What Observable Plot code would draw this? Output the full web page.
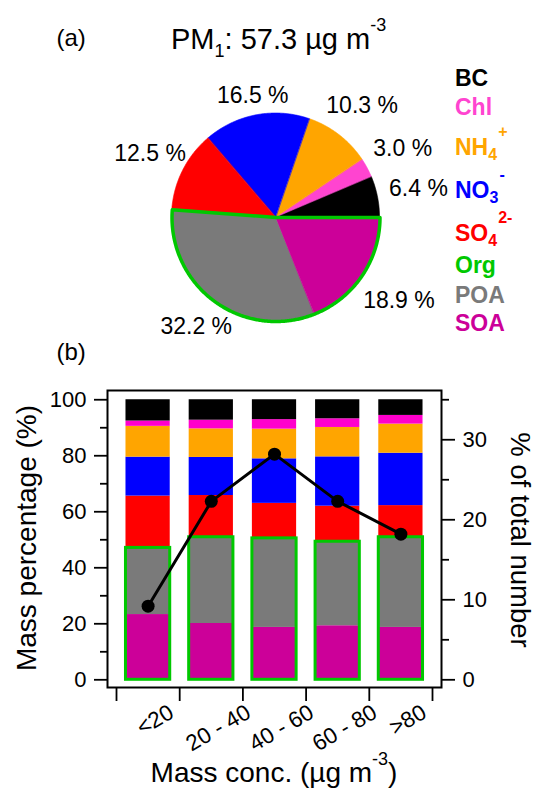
<!DOCTYPE html>
<html><head><meta charset="utf-8">
<script src="https://cdn.jsdelivr.net/npm/d3@7"></script>
<script src="https://cdn.jsdelivr.net/npm/@observablehq/plot@0.6"></script>
<style>
html,body{margin:0;padding:0;background:#fff;}
#root{position:relative;width:536px;height:788px;overflow:hidden;font-family:"Liberation Sans",Arial,sans-serif;color:#000;}
.t{position:absolute;white-space:nowrap;line-height:1;}
.t span{position:relative;}
</style></head><body><div id="root"></div>
<script>
// ---------- data ----------
const pieComponents = ["BC","Chl","NH4","NO3","SO4","POA","SOA"];
const piePercent   = [6.4, 3.0, 10.3, 16.5, 12.5, 32.2, 18.9];
const pieLabels    = ["6.4 %","3.0 %","10.3 %","16.5 %","12.5 %","32.2 %","18.9 %"];
const pieColors    = ["#000000","#ff44d0","#ffa500","#0000ff","#ff0000","#7a7a7a","#cc0099"];
const orgParts     = ["POA","SOA"];
const pm1Value     = "57.3";

const binLabels  = ["<20","20 - 40","40 - 60","60 - 80",">80"];
const stackOrder = ["SOA","POA","SO4","NO3","NH4","Chl","BC"];
const barColors  = ["#cc0099","#7a7a7a","#ff0000","#0000ff","#ffa500","#ff00cc","#000000"];
const soa = [23.3, 20.1, 18.7, 19.3, 18.7];
const poa = [23.8, 30.8, 31.8, 30.0, 32.2];
const so4 = [18.5, 14.9, 12.5, 12.7, 11.3];
const no3 = [13.9, 13.6, 15.9, 17.6, 18.7];
const nh4 = [11.0, 10.2, 10.6, 10.5, 10.4];
const chl = [1.9, 3.1, 3.4, 3.1, 3.1];
const bc  = [7.6, 7.3, 7.1, 6.8, 5.6];
const numberPercent = [9.2, 22.3, 28.2, 22.3, 18.2];

const leftTicks  = [0,20,40,60,80,100];
const leftMinor  = [10,30,50,70,90];
const rightTicks = [0,10,20,30];
const rightMinor = [5,15,25,35];
const leftMax = 100, rightMax = 35;

const legendItems = [["BC","",""],["Chl","",""],["NH","4","+"],["NO","3","-"],["SO","4","2-"],["Org","",""],["POA","",""],["SOA","",""]];
const legendColors = ["#000000","#ff44d0","#ffa500","#0000ff","#ff0000","#00c800","#7a7a7a","#cc0099"];
const orgGreen = "#00c800";

// ---------- helpers ----------
const FONT = "'Liberation Sans', Arial, sans-serif";
const root = document.getElementById("root");
const ctx = document.createElement("canvas").getContext("2d");
function textWidth(s, px){ ctx.font = px + "px " + FONT; return ctx.measureText(s).width; }
function addText(html, css){ const d = document.createElement("div"); d.className = "t"; d.innerHTML = html; Object.assign(d.style, css); root.appendChild(d); return d; }

// ---------- pie ----------
const R = 104, CX = 275.5, CY = 217;
const total = d3.sum(piePercent);
let cum = 0;
const slices = pieComponents.map((c, i) => {
  const a0 = cum / total * 2 * Math.PI; cum += piePercent[i];
  const a1 = cum / total * 2 * Math.PI;
  return {c, a0, a1, label: pieLabels[i]};
});
const arcPts = [];
slices.forEach(s => {
  const n = Math.max(2, Math.ceil((s.a1 - s.a0) / 0.01));
  for (let k = 0; k <= n; k++) { const a = s.a0 + (s.a1 - s.a0) * k / n; arcPts.push({c: s.c, x: Math.cos(a), y: Math.sin(a)}); }
});
const orgSlices = slices.filter(s => orgParts.includes(s.c));
const orgStart = d3.min(orgSlices, s => s.a0), orgEnd = d3.max(orgSlices, s => s.a1);
const orgPts = [];
{ const n = Math.ceil((orgEnd - orgStart) / 0.01);
  for (let k = 0; k <= n; k++) { const a = orgStart + (orgEnd - orgStart) * k / n; orgPts.push({x: Math.cos(a), y: Math.sin(a)}); }
  orgPts.push({x: 0, y: 0}); orgPts.push({x: Math.cos(orgStart), y: Math.sin(orgStart)}); }
const labelPos = slices.map(s => {
  const m = (s.a0 + s.a1) / 2, w = textWidth(s.label, 23);
  const ext = w / 2 * Math.abs(Math.cos(m)) + 8.3 * Math.abs(Math.sin(m));
  const gap = 6 + 5 * Math.cos(m);
  const d = (R + gap + ext) / R;
  return {label: s.label, x: d * Math.cos(m), y: d * Math.sin(m)};
});

const pie = Plot.plot({
  width: 536, height: 340,
  x: {domain: [-1, 1], range: [CX - R, CX + R], axis: null},
  y: {domain: [-1, 1], range: [CY + R, CY - R], axis: null},
  color: {domain: pieComponents, range: pieColors},
  style: {fontFamily: FONT, fontSize: "23px", background: "transparent", overflow: "visible"},
  marks: [
    Plot.area(arcPts, {x1: "x", y1: "y", x2: 0, y2: 0, z: "c", fill: "c", stroke: "c", strokeWidth: 0.6}),
    Plot.line(orgPts, {x: "x", y: "y", stroke: orgGreen, strokeWidth: 3.5, strokeLinejoin: "round"}),
    Plot.text(labelPos, {x: "x", y: "y", text: "label", fill: "black", fontSize: 23})
  ]
});
Object.assign(pie.style, {position: "absolute", left: "0px", top: "0px"});
root.appendChild(pie);

// ---------- bars ----------
const series = {SOA: soa, POA: poa, SO4: so4, NO3: no3, NH4: nh4, Chl: chl, BC: bc};
const rows = [];
binLabels.forEach((b, i) => {
  let acc = 0;
  stackOrder.forEach(c => { const v = series[c][i]; rows.push({i, comp: c, y1: acc, y2: acc + v}); acc += v; });
});
const orgRows = binLabels.map((b, i) => ({i, org: d3.sum(orgParts, c => series[c][i])}));
const k = leftMax / rightMax;
const lineRows = numberPercent.map((v, i) => ({i, v: v * k}));
const edges = d3.range(binLabels.length + 1);

const SVG_TOP = 340, H = 448, MB = 101;
const catMarks = binLabels.map((c, i) => {
  const w = textWidth(c, 22.5);
  const dy = 16 + (w * 0.5 + 13.86) / 2;
  return Plot.text([c], {x: () => i + 0.5, frameAnchor: "bottom", text: d => d, rotate: -30, dx: 7, dy, fontSize: 22.5, textAnchor: "middle", lineAnchor: "middle"});
});
const tickOpts = {strokeWidth: 1.8, strokeOpacity: 1, tickFormat: () => "", label: null};

const bars = Plot.plot({
  width: 536, height: H,
  marginTop: 50, marginBottom: MB, marginLeft: 107, marginRight: 95,
  x: {type: "linear", domain: [0, binLabels.length], range: [116, 432], axis: null},
  y: {domain: [-2.75, 103.3], axis: null},
  color: {domain: stackOrder, range: barColors},
  style: {fontFamily: FONT, fontSize: "22px", background: "transparent", overflow: "visible"},
  marks: [
    Plot.rect(rows, {x1: d => d.i + 0.15, x2: d => d.i + 0.85, y1: "y1", y2: "y2", fill: "comp"}),
    Plot.rect(orgRows, {x1: d => d.i + 0.15, x2: d => d.i + 0.85, y1: 0, y2: "org", fill: "none", stroke: orgGreen, strokeWidth: 3}),
    Plot.line(lineRows, {x: d => d.i + 0.5, y: "v", stroke: "black", strokeWidth: 3}),
    Plot.dot(lineRows, {x: d => d.i + 0.5, y: "v", r: 6.5, fill: "black"}),
    Plot.frame({stroke: "black", strokeWidth: 2}),
    Plot.axisY({anchor: "left", ticks: leftTicks, tickSize: 13, ...tickOpts}),
    Plot.axisY({anchor: "left", ticks: leftMinor, tickSize: 7, ...tickOpts}),
    Plot.axisY({anchor: "right", ticks: rightTicks.map(v => v * k), tickSize: 13, ...tickOpts}),
    Plot.axisY({anchor: "right", ticks: rightMinor.map(v => v * k), tickSize: 7, ...tickOpts}),
    Plot.axisX({anchor: "bottom", ticks: edges, tickSize: 14, ...tickOpts}),
    Plot.text(leftTicks, {y: d => d, frameAnchor: "left", dx: -21, textAnchor: "end", text: d => String(d), fontSize: 22}),
    Plot.text(rightTicks, {y: d => d * k, frameAnchor: "right", dx: 21, textAnchor: "start", text: d => String(d), fontSize: 22}),
    ...catMarks
  ]
});
Object.assign(bars.style, {position: "absolute", left: "0px", top: SVG_TOP + "px"});
root.appendChild(bars);

// ---------- texts ----------
addText("(a)", {left: "56.5px", top: (46.7 - 0.8465 * 24) + "px", fontSize: "24px"});
addText("(b)", {left: "56.5px", top: (360 - 0.8465 * 24) + "px", fontSize: "24px"});
addText(`PM<span style="font-size:18px;top:8px">1</span>: ${pm1Value} µg m<span style="font-size:18px;top:-18px">-3</span>`,
  {left: "171px", top: (50 - 0.8465 * 29) + "px", fontSize: "29px"});

const legendBaselines = [86.7, 115, 155, 198.3, 241.7, 273.3, 303.3, 331.7];
legendItems.forEach((it, i) => {
  let html = it[0];
  if (it[1]) html += `<span style="font-size:16px;top:5px">${it[1]}</span>`;
  if (it[2]) html += `<span style="font-size:16px;top:-18px;margin-left:1px">${it[2]}</span>`;
  addText(html, {left: "455px", top: (legendBaselines[i] - 0.8465 * 23) + "px", fontSize: "23px", fontWeight: "bold", color: legendColors[i]});
});

addText("Mass percentage (%)", {left: "27px", top: "538px", fontSize: "28px", transform: "translate(-50%,-50%) rotate(-90deg)"});
addText("% of total number", {left: "520px", top: "540px", fontSize: "27.5px", transform: "translate(-50%,-50%) rotate(90deg)"});
addText(`Mass conc. (µg m<span style="font-size:18px;top:-17px">-3</span>)`, {left: "274px", top: (782.7 - 0.8465 * 28) + "px", fontSize: "28px", transform: "translateX(-50%)"});
</script>
</body></html>
